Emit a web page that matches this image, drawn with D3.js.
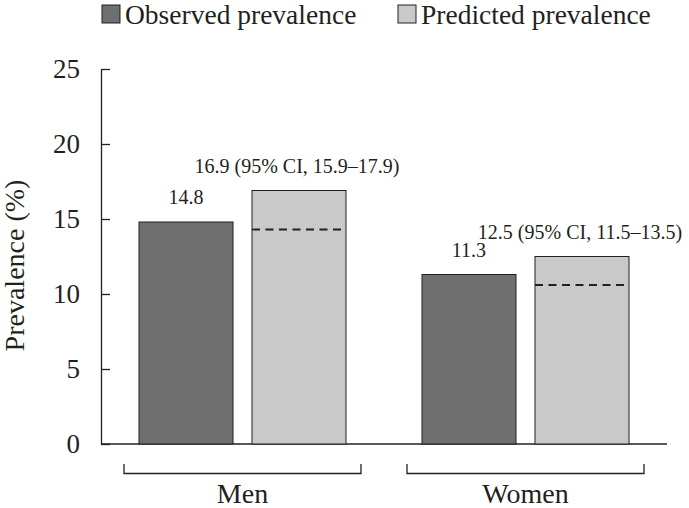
<!DOCTYPE html>
<html>
<head>
<meta charset="utf-8">
<script src="https://cdn.jsdelivr.net/npm/d3@7"></script>
<style>
  html, body { margin: 0; padding: 0; background: #fff; }
  svg { display: block; }
  text { font-family: "Liberation Serif", "DejaVu Serif", "Noto Serif", serif; fill: #231f20; }
</style>
</head>
<body>
<svg id="chart" width="689" height="508"></svg>
<script>
// ---- data ----
const categories = ["Men", "Women"];
const seriesNames = ["Observed prevalence", "Predicted prevalence"];
const observed = [14.8, 11.3];
const predicted = [16.9, 12.5];
const ciLow = [15.9, 11.5];
const ciHigh = [17.9, 13.5];
const dashedRef = [14.3, 10.6];
const yTicks = [0, 5, 10, 15, 20, 25];
const yTitle = "Prevalence (%)";

// ---- layout ----
const svg = d3.select("#chart");
const mLeft = 101, mRight = 667, mTop = 69, mBottom = 444;
const colors = ["#6f6f6f", "#c9c9c9"];
const stroke = "#231f20";
const serif = "'Liberation Serif', 'DejaVu Serif', 'Noto Serif', serif";

const y = d3.scaleLinear().domain([0, 25]).range([mBottom, mTop]);
const x0 = d3.scaleBand().domain(categories).range([mLeft, mRight]).paddingInner(0).paddingOuter(0);
const x1 = d3.scaleBand().domain(seriesNames).range([38, x0.bandwidth() - 38]).paddingInner(0.168);

// y axis
const yAxis = d3.axisLeft(y).tickValues(yTicks).tickSize(-9).tickSizeOuter(0).tickPadding(21).tickFormat(d3.format("d"));
const ga = svg.append("g").attr("transform", `translate(${mLeft},0)`).call(yAxis);
ga.attr("font-family", serif);
ga.select(".domain").attr("stroke", stroke).attr("stroke-width", 1.3);
ga.selectAll(".tick line").attr("stroke", stroke).attr("stroke-width", 1.3);
ga.selectAll(".tick text").attr("font-size", 27).style("font-family", serif).attr("fill", stroke);

// baseline
svg.append("line").attr("x1", mLeft).attr("x2", mRight).attr("y1", mBottom).attr("y2", mBottom)
  .attr("stroke", stroke).attr("stroke-width", 1.3);

// y title
svg.append("text")
  .attr("transform", `translate(24,${y(11.9)}) rotate(-90)`)
  .attr("text-anchor", "middle").attr("font-size", 28).style("font-family", serif).text(yTitle);

// bars
const rows = categories.map((c, i) => ({ c, i }));
const groups = svg.append("g").selectAll("g").data(rows).join("g")
  .attr("transform", d => `translate(${x0(d.c)},0)`);

groups.append("rect")
  .attr("x", x1(seriesNames[0])).attr("width", x1.bandwidth())
  .attr("y", d => y(observed[d.i])).attr("height", d => y(0) - y(observed[d.i]))
  .attr("fill", colors[0]).attr("stroke", stroke).attr("stroke-width", 1);

groups.append("rect")
  .attr("x", x1(seriesNames[1])).attr("width", x1.bandwidth())
  .attr("y", d => y(predicted[d.i])).attr("height", d => y(0) - y(predicted[d.i]))
  .attr("fill", colors[1]).attr("stroke", stroke).attr("stroke-width", 1);

groups.append("line")
  .attr("x1", x1(seriesNames[1])).attr("x2", x1(seriesNames[1]) + x1.bandwidth())
  .attr("y1", d => y(dashedRef[d.i])).attr("y2", d => y(dashedRef[d.i]))
  .attr("stroke", stroke).attr("stroke-width", 1.8).attr("stroke-dasharray", "8,5.5");

// value labels
groups.append("text")
  .attr("x", x1(seriesNames[0]) + x1.bandwidth() / 2)
  .attr("y", d => y(observed[d.i]) - 18)
  .attr("text-anchor", "middle").attr("font-size", 20).style("font-family", serif)
  .text(d => observed[d.i].toFixed(1));

groups.append("text")
  .attr("x", x1(seriesNames[1]) + x1.bandwidth() / 2 - 2)
  .attr("y", d => y(predicted[d.i]) - 18)
  .attr("text-anchor", "middle").attr("font-size", 20).style("font-family", serif)
  .text(d => `${predicted[d.i].toFixed(1)} (95% CI, ${ciLow[d.i].toFixed(1)}\u2013${ciHigh[d.i].toFixed(1)})`);

// category brackets
const bPad = 23;
groups.append("path")
  .attr("d", `M${bPad},464 V473.5 H${x0.bandwidth() - bPad} V464`)
  .attr("fill", "none").attr("stroke", stroke).attr("stroke-width", 1.3);

groups.append("text")
  .attr("x", x0.bandwidth() / 2).attr("y", 503)
  .attr("text-anchor", "middle").attr("font-size", 28).style("font-family", serif)
  .text(d => d.c);

// legend
const legendX = [102, 398];
const lg = svg.append("g").selectAll("g").data(seriesNames).join("g")
  .attr("transform", (d, i) => `translate(${legendX[i]},4)`);
lg.append("rect").attr("x", 0).attr("y", 1).attr("width", 18).attr("height", 18)
  .attr("fill", (d, i) => colors[i]).attr("stroke", stroke).attr("stroke-width", 1);
lg.append("text").attr("x", 23).attr("y", 20).attr("font-size", 27.5).style("font-family", serif).text(d => d);
</script>
</body>
</html>
